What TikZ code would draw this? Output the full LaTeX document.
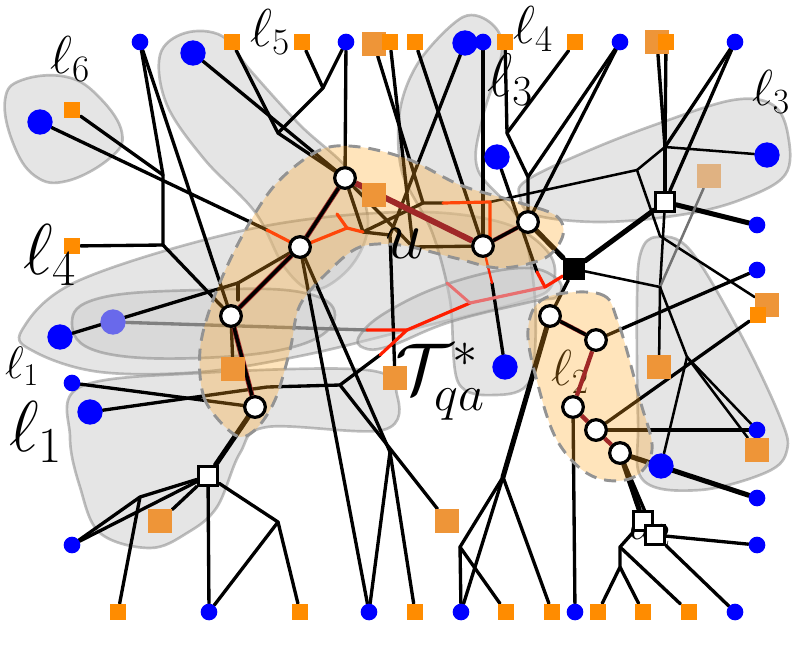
\RequirePackage{fix-cm}
\documentclass[tikz,border=0pt]{standalone}
\begin{document}
\definecolor{bl}{RGB}{0,0,255}
\definecolor{orS}{RGB}{255,140,0}
\definecolor{orM}{RGB}{238,149,56}
\definecolor{tanc}{RGB}{224,178,130}
\definecolor{blobO}{RGB}{255,165,30}
\definecolor{dred}{RGB}{160,40,40}
\definecolor{rline}{RGB}{255,30,0}
\definecolor{pinkl}{RGB}{232,112,112}
\definecolor{fadeb}{RGB}{105,105,235}
\pgfdeclarelayer{blobs}\pgfdeclarelayer{orange}\pgfdeclarelayer{top}\pgfdeclarelayer{nodes}
\pgfsetlayers{blobs,main,orange,top,nodes}
\begin{tikzpicture}[x=0.75pt,y=-0.75pt,line join=round,line cap=round,
  gblob/.style={fill=gray!40,fill opacity=0.5,draw=gray,draw opacity=0.5,line width=2pt},
  oblob/.style={fill=blobO,fill opacity=0.3,draw=gray!85,dash pattern=on 9pt off 6pt,line width=2.2pt,line cap=butt},
  bsm/.style={circle,fill=bl,inner sep=0pt,minimum size=12.5pt},
  bbg/.style={circle,fill=bl,inner sep=0pt,minimum size=19pt},
  osm/.style={rectangle,fill=orS,inner sep=0pt,minimum size=12.5pt},
  obg/.style={rectangle,fill=orM,inner sep=0pt,minimum size=18pt},
  wc/.style={circle,draw=black,fill=white,line width=2.4pt,inner sep=0pt,minimum size=15.5pt},
  wsq/.style={rectangle,draw=black,fill=white,line width=2.2pt,inner sep=0pt,minimum size=14.5pt},
  bsq/.style={rectangle,fill=black,inner sep=0pt,minimum size=16.5pt},
  e/.style={line width=2.5pt},
  et/.style={line width=1.9pt},
  ek/.style={line width=3.8pt},
  rl/.style={draw=rline,line width=2.4pt},
  pth/.style={line width=2.6pt},
  lab/.style={inner sep=0pt}]
\useasboundingbox (0,0) rectangle (798,651);

% ---------- nodes ----------
\begin{pgfonlayer}{nodes}
\node[circle,fill=fadeb,inner sep=0pt,minimum size=19pt] (l5) at (113,322) {};
\node[bsm] (t1) at (140,42) {};
\node[bbg] (t2) at (193,53) {};
\node[osm] (t3) at (232,42) {};
\node[osm] (t4) at (302,42) {};
\node[bsm] (t5) at (346,42) {};
\node[obg] (t6) at (374,44) {};
\node[osm] (t7) at (390,42) {};
\node[osm] (t8) at (415,42) {};
\node[bbg] (t9) at (465,43) {};
\node[bsm] (t10) at (483,42) {};
\node[osm] (t11) at (505,42) {};
\node[osm] (t12) at (575,42) {};
\node[bsm] (t13) at (620,42) {};
\node[obg] (t14) at (657,42) {};
\node[osm] (t15) at (666,42) {};
\node[bsm] (t16) at (735,42) {};
\node[bbg] (l1) at (40,122) {};
\node[osm] (l2) at (72,110) {};
\node[osm] (l3) at (72,246) {};
\node[bbg] (l4) at (60,337) {};
\node[bsm] (l6) at (72,383) {};
\node[bbg] (l7) at (90,412) {};
\node[bsm] (l8) at (72,545) {};
\node[osm] (b1) at (118,612) {};
\node[bsm] (b2) at (209,612) {};
\node[osm] (b3) at (300,612) {};
\node[bsm] (b4) at (369,612) {};
\node[osm] (b5) at (415,612) {};
\node[bsm] (b6) at (461,612) {};
\node[osm] (b7) at (506,612) {};
\node[osm] (b8) at (552,612) {};
\node[bsm] (b9) at (575,612) {};
\node[osm] (b10) at (598,612) {};
\node[osm] (b11) at (643,612) {};
\node[osm] (b12) at (689,612) {};
\node[bsm] (b13) at (735,612) {};
\node[bbg] (r1) at (767,155) {};
\node[rectangle,fill=tanc,inner sep=0pt,minimum size=18pt] (r2) at (709,176) {};
\node[bsm] (r3) at (757,225) {};
\node[bsm] (r4) at (757,270) {};
\node[obg] (r5) at (767,305) {};
\node[osm] (r6) at (758,315) {};
\node[obg] (r7) at (659,367) {};
\node[bsm] (r8) at (757,430) {};
\node[obg] (r9) at (757,450) {};
\node[bbg] (r10) at (661,466) {};
\node[bsm] (r11) at (757,498) {};
\node[bsm] (r12) at (757,545) {};
\node[obg] (m1) at (374,195) {};
\node[obg] (m2) at (233,369) {};
\node[obg] (m3) at (395,378) {};
\node[obg] (m4) at (447,521) {};
\node[obg] (m5) at (160,521) {};
\node[bbg] (m6) at (505,367) {};
\node[bbg] (m7) at (497,157) {};
\node[wc] (w1) at (345,178) {};
\node[wc] (w2) at (300,247) {};
\node[wc] (w3) at (231,316) {};
\node[wc] (w4) at (255,407) {};
\node[wc] (w5) at (483,246) {};
\node[wc] (w6) at (528,222) {};
\node[wc] (w7) at (550,316) {};
\node[wc] (w8) at (596,340) {};
\node[wc] (w9) at (573,407) {};
\node[wc] (w10) at (596,430) {};
\node[wc] (w11) at (620,453) {};
\node[bsq] (bs) at (574,269) {};
\node[wsq] (ws1) at (665,202) {};
\node[wsq] (ws2) at (208,476) {};
\node[wsq] (ws3) at (643,521) {};
\node[wsq] (ws4) at (655,535) {};
% labels
\node[lab,font=\fontsize{40}{44}\selectfont] (lab6) at (70,59) {$\ell_6$};
\node[lab,font=\fontsize{40}{44}\selectfont] (lab5) at (270,32) {$\ell_5$};
\node[lab,font=\fontsize{40}{44}\selectfont] (lab4t) at (533,29) {$\ell_4$};
\node[lab,font=\fontsize{38}{42}\selectfont] (lab3r) at (771,92) {$\ell_3$};
\node[lab,font=\fontsize{46}{50}\selectfont] (lab3m) at (510,80) {$\ell_3$};
\node[lab,font=\fontsize{54}{58}\selectfont] (lab4l) at (50,255) {$\ell_4$};
\node[lab,font=\fontsize{34}{38}\selectfont] (lab1s) at (22,366) {$\ell_1$};
\node[lab,font=\fontsize{54}{58}\selectfont] (lab1b) at (36,432) {$\ell_1$};
\node[lab,font=\fontsize{52}{56}\selectfont] (labu) at (405,244) {$u$};
\node[lab,font=\fontsize{54}{58}\selectfont] (labT) at (440,382) {$\mathcal{T}^{*}_{qa}$};
\end{pgfonlayer}

% ---------- gray blobs ----------
\begin{pgfonlayer}{blobs}
\path[gblob] plot[smooth cycle,tension=0.7] coordinates {(5,100)(22,80)(67,77)(100,98)(122,133)(110,158)(67,181)(35,176)(13,143)};
\path[gblob] plot[smooth cycle,tension=0.6] coordinates {(160,55)(185,33)(222,36)(250,70)(300,125)(350,172)(368,222)(352,265)(315,290)(285,268)(255,212)(205,160)(167,105)};
\path[gblob] plot[smooth cycle,tension=0.6] coordinates {(22,330)(80,280)(250,229)(400,212)(500,222)(548,252)(552,285)(520,302)(400,332)(300,356)(200,372)(100,372)(35,352)};
\path[gblob] plot[smooth cycle,tension=0.7] coordinates {(72,323)(100,298)(200,290)(300,292)(335,315)(300,345)(200,358)(100,352)};
\path[gblob] plot[smooth cycle,tension=0.6] coordinates {(80,387)(200,373)(367,370)(397,395)(383,430)(267,427)(240,453)(217,507)(187,533)(150,548)(100,533)(80,487)(70,437)};
\path[gblob] plot[smooth cycle,tension=0.6] coordinates {(527,180)(590,150)(660,123)(733,100)(773,105)(788,135)(785,175)(740,200)(680,215)(600,222)(535,215)(520,197)};
\path[gblob] plot[smooth cycle,tension=0.55] coordinates {(463,17)(492,24)(502,52)(482,120)(478,170)(520,222)(535,300)(530,380)(495,395)(458,382)(450,300)(432,232)(402,172)(400,110)(420,60)};
\path[gblob] plot[smooth cycle,tension=0.6] coordinates {(657,237)(690,250)(740,333)(780,417)(787,450)(767,472)(700,490)(643,480)(638,420)(637,300)(641,252)};
\path[gblob] plot[smooth cycle,tension=0.7] coordinates {(360,335)(390,310)(450,283)(520,268)(556,278)(558,296)(530,302)(450,322)(390,346)(364,348)};
\end{pgfonlayer}

% ---------- orange blobs ----------
\begin{pgfonlayer}{orange}
\path[oblob] plot[smooth cycle,tension=0.55] coordinates {(235,435)(205,400)(200,350)(213,300)(240,240)(275,185)(320,150)(360,147)(410,160)(460,185)(510,200)(555,215)(563,235)(545,258)(500,268)(455,258)(400,245)(360,247)(330,270)(300,305)(290,350)(275,400)(255,430)};
\path[oblob] plot[smooth cycle,tension=0.6] coordinates {(545,298)(600,294)(618,322)(640,400)(652,450)(632,478)(592,476)(558,442)(538,385)(528,330)};
\end{pgfonlayer}

% ---------- Steiner points ----------
\coordinate (s1) at (163,175);
\coordinate (s2) at (163,245);
\coordinate (s3) at (278,133);
\coordinate (s4) at (323,88);
\coordinate (s5) at (267,230);
\coordinate (s6) at (238,283);
\coordinate (s6b) at (238,300);
\coordinate (s7) at (347,228);
\coordinate (s7a) at (337,214);
\coordinate (s8) at (363,232);
\coordinate (s9) at (390,235);
\coordinate (s10) at (413,247);
\coordinate (s11) at (423,203);
\coordinate (s12) at (443,203);
\coordinate (s13) at (490,202);
\coordinate (s13b) at (490,238);
\coordinate (s14) at (507,133);
\coordinate (s15) at (528,177);
\coordinate (s16) at (637,170);
\coordinate (s17) at (665,147);
\coordinate (s18) at (660,236);
\coordinate (s19) at (660,287);
\coordinate (s20) at (687,357);
\coordinate (s21) at (503,477);
\coordinate (s22) at (460,547);
\coordinate (s23) at (620,547);
\coordinate (s24) at (620,567);
\coordinate (s25) at (140,497);
\coordinate (s26) at (278,522);
\coordinate (s27) at (267,387);
\coordinate (s28) at (340,385);
\coordinate (s29) at (390,452);
\coordinate (R1) at (407,330);
\coordinate (R2) at (367,330);
\coordinate (R3) at (380,355);
\coordinate (R4) at (470,303);
\coordinate (R5) at (545,287);
\coordinate (R6) at (537,272);
\coordinate (m6t) at (492,283);

% labels under orange
\node[lab,font=\fontsize{38}{42}\selectfont] (lab2) at (570,372) {$\ell_2$};
\node[lab,font=\fontsize{36}{40}\selectfont] (laba) at (650,533) {$a_2$};

% ---------- ordinary edges ----------
\draw[e] (t1) -- (s1) -- (s2) -- (l3);
\draw[e] (l2) -- (s1);
\draw[e] (s2) -- (w3);
\draw[e] (t1) -- (w3);
\draw[e] (l1) -- (s5);
\draw[e] (t2) -- (w1);
\draw[e] (t3) -- (s3) -- (w1);
\draw[e] (s3) -- (s4) -- (t4);
\draw[e] (s4) -- (t5);
\draw[e] (t5) -- (w1);
\draw[e] (l4) -- (s6) -- (w2);
\draw[e] (s6) -- (s6b);
\draw[e,black!50] (l5) -- (R2);
\draw[e] (l6) -- (w4);
\draw[e] (l7) -- (s27) -- (s28) -- (m4);
\draw[e] (s28) -- (R3);
\draw[e] (w2) -- (b4);
\draw[e] (w2) -- (s29) -- (b4);
\draw[e] (s29) -- (b5);
\draw[e] (w3) -- (m2);
\draw[e] (s8) -- (s9) -- (m3);
\draw[e] (w1) -- (s8);
\draw[e] (w1) -- (s10) -- (w5);
\draw[e] (t6) -- (s11);
\draw[e] (t7) -- (s10);
\draw[e] (t8) -- (w5);
\draw[e] (t9) -- (s9);
\draw[e] (t10) -- (w5);
\draw[e] (s8) -- (s11) -- (s12);
\draw[et] (s13) -- (s16);
\draw[e] (t11) -- (s14) -- (s15) -- (w6);
\draw[e] (t12) -- (s14);
\draw[e] (t13) -- (s15);
\draw[e] (t13) -- (w6);
\draw[e] (m7) -- (R6);
\draw[e] (m6t) -- (m6);
% right part
\draw[ek] (w6) -- (bs);
\draw[ek] (bs) -- (ws1);
\draw[ek] (ws1) -- (r3);
\draw[e] (t14) -- (s17);
\draw[e] (t15) -- (s17);
\draw[e] (s17) -- (ws1);
\draw[et] (s17) -- (r1);
\draw[et] (s17) -- (s16) -- (s18);
\draw[e] (t16) -- (s17);
\draw[e] (t16) -- (ws1);
\draw[et] (s18) -- (r5);
\draw[et] (ws1) -- (s19) -- (r7);
\draw[et] (bs) -- (s19);
\draw[et,black!55] (r2) -- (s19);
\draw[et] (s19) -- (s20) -- (r8);
\draw[et] (s20) -- (r9);
\draw[et] (s20) -- (r10);
\draw[e] (r4) -- (w8);
\draw[e] (r6) -- (w10);
\draw[e] (w10) -- (r8);
\draw[ek] (w11) -- (r11);
\draw[ek] (w11) -- (ws3);
\draw[e] (w11) -- (ws4);
\draw[e] (ws4) -- (r12);
\draw[e] (ws4) -- (b13);
\draw[e] (ws3) -- (s23) -- (s24) -- (b10);
\draw[e] (s24) -- (b11);
\draw[e] (s23) -- (b12);
\draw[e] (w9) -- (b9);
\draw[ek] (w7) -- (s21);
\draw[e] (s21) -- (s22) -- (b6);
\draw[e] (s21) -- (b6);
\draw[e] (s22) -- (b7);
\draw[e] (s21) -- (b8);
\draw[e] (bs) -- (w7);
% left bottom
\draw[ek] (w4) -- (ws2);
\draw[e] (ws2) -- (s25) -- (l8);
\draw[e] (ws2) -- (l8);
\draw[e] (s25) -- (b1);
\draw[e] (ws2) -- (m5);
\draw[e] (ws2) -- (b2);
\draw[e] (ws2) -- (s26) -- (b2);
\draw[e] (s26) -- (b3);

% ---------- red lines ----------
\draw[rl] (s5) -- (w2);
\draw[rl] (w2) -- (s7) -- (s7a);
\draw[rl] (s7) -- (s8);
\draw[rl] (R2) -- (R1) -- (R3);
\draw[rl] (R1) -- (R4);
\draw[draw=pinkl,line width=2.4pt] (R4) -- (R5);
\draw[draw=pinkl,line width=2.2pt] (R4) -- (447,283);
\draw[rl] (R6) -- (R5) -- (bs);
\draw[rl] (s12) -- (s13) -- (s13b);
\draw[rl,line width=1.8pt] (w5) -- (m6t);

% ---------- path edges on top ----------
\begin{pgfonlayer}{top}
\draw[draw=dred,line width=4.4pt] (w1) -- (w5);
\draw[draw=dred,line width=3.8pt] (w1) -- (w2) -- (w3) -- (w4);
\draw[pth] (w1) -- (w2) -- (w3) -- (w4);
\draw[draw=dred,line width=3.2pt] (w5) -- (w6);
\draw[e] (w5) -- (w6);
\draw[draw=dred,line width=3.2pt] (w7) -- (w8) -- (w9) -- (w10) -- (w11);
\draw[e] (w7) -- (w8);
\end{pgfonlayer}
\end{tikzpicture}
\end{document}
